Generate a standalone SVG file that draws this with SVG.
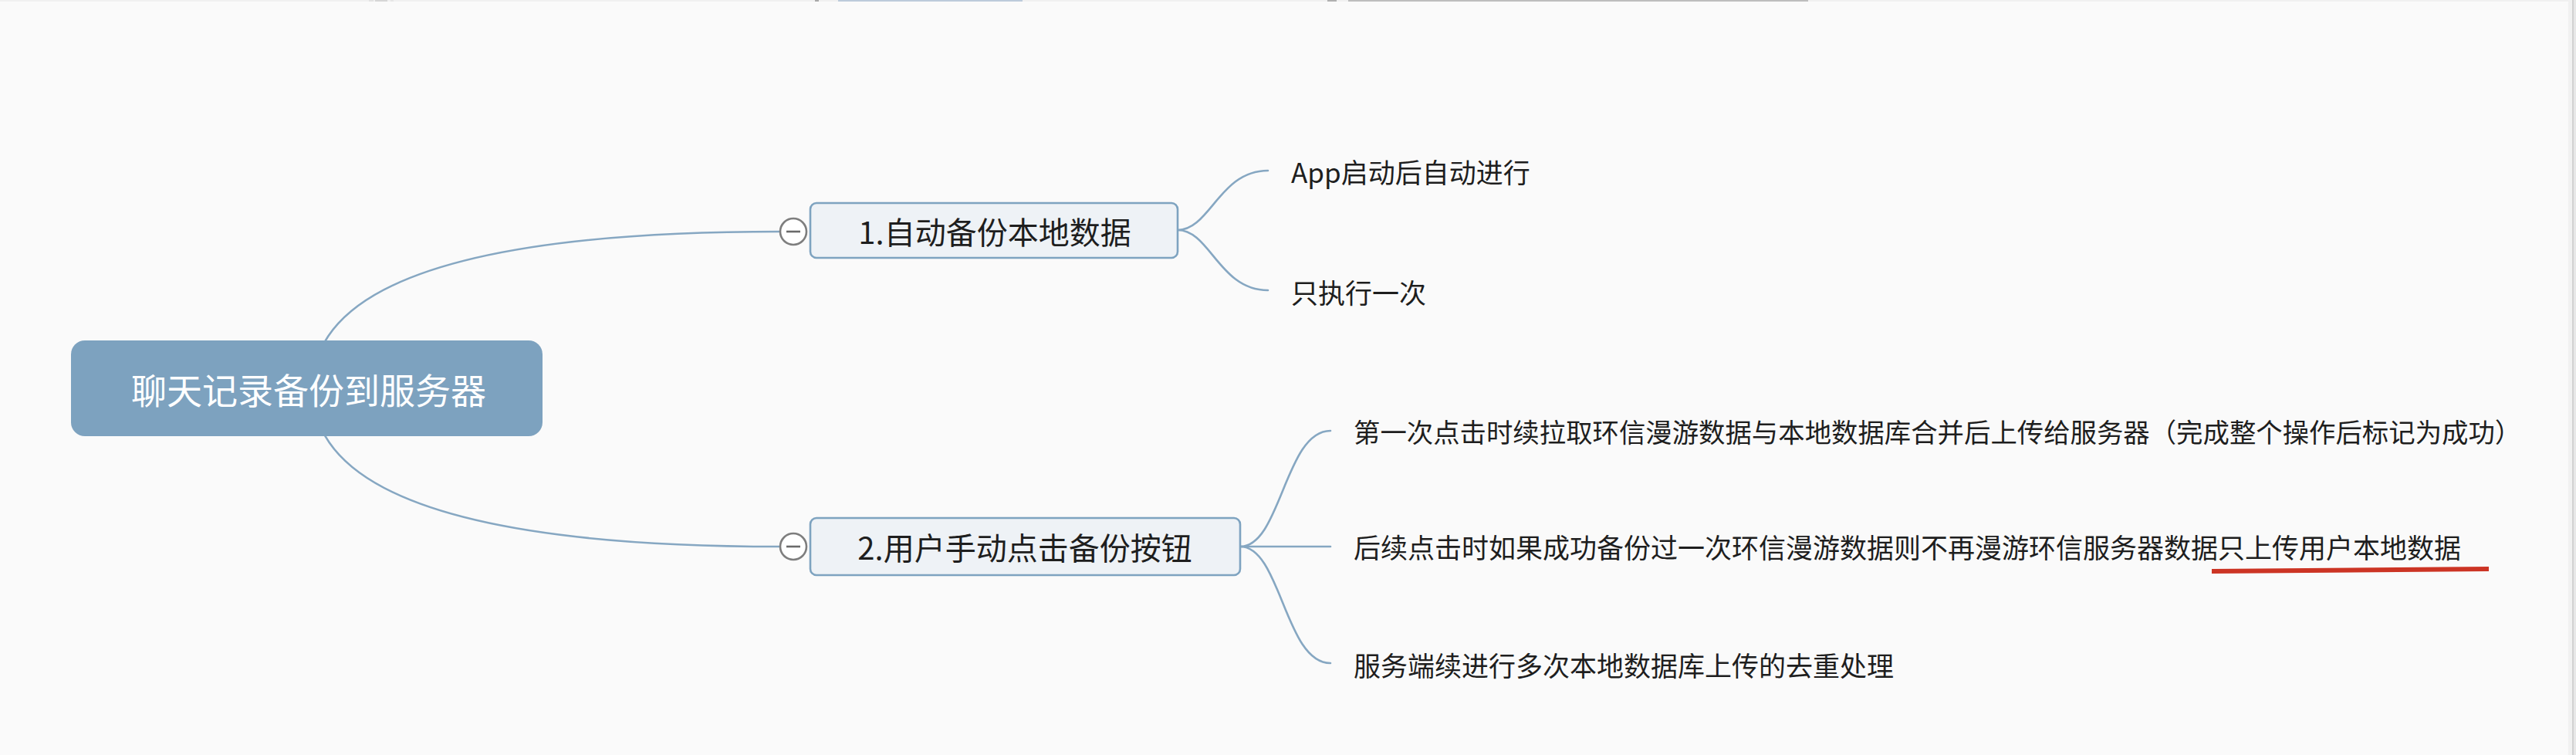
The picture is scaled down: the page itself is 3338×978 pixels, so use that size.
<svg xmlns="http://www.w3.org/2000/svg" width="3338" height="978" viewBox="0 0 3338 978">
<style>
.bg{fill:#fafafa}
.conn{fill:none;stroke:#86a7c2;stroke-width:2.6;stroke-linecap:round}
.root{fill:#7da2bf}
.topic{fill:#eef2f6;stroke:#7ea3c0;stroke-width:2.6}
.fold{fill:#ffffff;stroke:#7e7e7e;stroke-width:2.6}
.foldbar{stroke:#6a6a6a;stroke-width:2.6}
.t{font-family:"Noto Sans CJK SC","Noto Sans",sans-serif;fill:#1e1e1e;dominant-baseline:central}
.rt{font-size:46px;fill:#ffffff;text-anchor:middle}
.tt{font-size:40px;text-anchor:middle}
.ct{font-size:35px}
</style>
<rect class="bg" x="0" y="0" width="3338" height="978"/>
<g id="chrome">
<rect x="0" y="0" width="3338" height="2" fill="#f1f1f1"/>
<rect x="478" y="0" width="6" height="2" fill="#e2e2e2"/>
<rect x="486" y="0" width="16" height="2" fill="#d6d6d6"/>
<rect x="506" y="0" width="4" height="2" fill="#e6e6e6"/>
<rect x="1056" y="0" width="5" height="2" fill="#a9a9a9"/>
<rect x="1086" y="0" width="239" height="2" fill="#bccbdb"/>
<rect x="1720" y="0" width="12" height="2" fill="#b0b0b0"/>
<rect x="1747" y="0" width="596" height="2" fill="#bdbdbd"/>
<rect x="3328" y="0" width="10" height="978" fill="#f1f1f1"/>
<rect x="3333" y="0" width="2" height="978" fill="#d2d2d2"/>
<rect x="3335" y="0" width="3" height="978" fill="#e8e8e8"/>
</g>
<g id="connectors">
<path class="conn" d="M405 503 Q405 300 1011 300"/>
<path class="conn" d="M405 503 Q405 708 1011 708"/>
<path class="conn" d="M1526 298 C1568 298 1580 221 1643 221"/>
<path class="conn" d="M1526 298 C1568 298 1580 376 1643 376"/>
<path class="conn" d="M1607 708 C1660 708 1665 558 1724 558"/>
<path class="conn" d="M1607 708 L1724 708"/>
<path class="conn" d="M1607 708 C1660 708 1665 859 1724 859"/>
</g>
<g id="root">
<rect class="root" x="92" y="441" width="611" height="124" rx="18"/>
<text class="t rt" x="400" y="503">聊天记录备份到服务器</text>
</g>
<g id="topic1">
<rect class="topic" x="1050" y="263" width="476" height="71" rx="8"/>
<text class="t tt" x="1289" y="299">1.自动备份本地数据</text>
<circle class="fold" cx="1028" cy="300" r="17"/>
<line class="foldbar" x1="1019" y1="300" x2="1037" y2="300"/>
</g>
<g id="topic2">
<rect class="topic" x="1050" y="671" width="557" height="74" rx="8"/>
<text class="t tt" x="1328" y="708">2.用户手动点击备份按钮</text>
<circle class="fold" cx="1028" cy="708" r="17"/>
<line class="foldbar" x1="1019" y1="708" x2="1037" y2="708"/>
</g>
<g id="child1a">
<text class="t ct" x="1673" y="221">App启动后自动进行</text>
</g>
<g id="child1b">
<text class="t ct" x="1673" y="377">只执行一次</text>
</g>
<g id="child2a">
<text class="t ct" x="1754" y="558" style="font-size:34.4px">第一次点击时续拉取环信漫游数据与本地数据库合并后上传给服务器（完成整个操作后标记为成功）</text>
</g>
<g id="child2b">
<text class="t ct" x="1754" y="707">后续点击时如果成功备份过一次环信漫游数据则不再漫游环信服务器数据只上传用户本地数据</text>
<path d="M2866 737 L3225 734 L3225 740 L2866 743 Z" fill="#cc3424"/>
</g>
<g id="child2c">
<text class="t ct" x="1754" y="860">服务端续进行多次本地数据库上传的去重处理</text>
</g>
</svg>
